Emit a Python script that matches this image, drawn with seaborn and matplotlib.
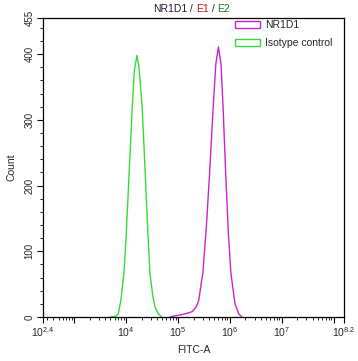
import numpy as np
import pandas as pd
import seaborn as sns
import matplotlib.pyplot as plt
from matplotlib.patches import Patch
from matplotlib.ticker import FixedLocator, LogLocator, NullFormatter
from matplotlib.transforms import offset_copy

# Histogram outlines: log10(FITC-A) vs count
nr1d1_log = [4.85, 4.95, 5.04, 5.15, 5.27, 5.35, 5.40, 5.48, 5.55, 5.61, 5.68,
             5.73, 5.78, 5.83, 5.87, 5.92, 5.97, 6.02, 6.10, 6.17, 6.23]
nr1d1_count = [0, 2, 3, 5, 8, 15, 25, 67, 140, 219, 320,
               385, 411, 385, 320, 219, 130, 67, 20, 5, 0]

iso_log = [3.69, 3.80, 3.85, 3.90, 3.96, 4.00, 4.06, 4.12, 4.16, 4.21,
           4.25, 4.31, 4.37, 4.42, 4.46, 4.52, 4.56, 4.62, 4.69]
iso_count = [0, 1, 5, 25, 67, 120, 219, 320, 375, 398,
             380, 320, 219, 130, 67, 30, 15, 5, 0]

series_names = ['NR1D1', 'Isotype control']
series_colors = ['#cc22cc', '#33dd33']

x_tick_exps = [2.4, 3, 4, 5, 6, 7, 8, 8.2]
x_tick_labels = ['$10^{2.4}$', '', '$10^{4}$', '$10^{5}$', '$10^{6}$', '$10^{7}$', '', '$10^{8.2}$']
y_ticks = [0, 100, 200, 300, 400, 455]

title_parts = ['NR1D1', ' / ', 'E1', ' / ', 'E2']
title_colors = ['#2a1a30', '#2a1a30', '#cc1111', '#2a1a30', '#1a7a2a']

df = pd.concat([
    pd.DataFrame({'x': 10 ** np.array(nr1d1_log), 'count': nr1d1_count, 'sample': series_names[0]}),
    pd.DataFrame({'x': 10 ** np.array(iso_log), 'count': iso_count, 'sample': series_names[1]}),
])

sns.set_style('ticks')
plt.rcParams['font.family'] = ['Liberation Sans', 'DejaVu Sans']
plt.rcParams['mathtext.fontset'] = 'custom'
plt.rcParams['mathtext.rm'] = 'Liberation Sans'
plt.rcParams['mathtext.it'] = 'Liberation Sans'

fig = plt.figure(figsize=(3.58, 3.61), dpi=100)
ax = fig.add_axes([43 / 358, 44 / 361, 301 / 358, 299 / 361])

sns.lineplot(data=df, x='x', y='count', hue='sample', palette=series_colors,
             hue_order=series_names, linewidth=1.0, sort=False, ax=ax, legend=False)

ax.set_xscale('log')
ax.set_xlim(10 ** 2.4, 10 ** 8.2)
ax.set_ylim(0, 455)

ax.xaxis.set_major_locator(FixedLocator([10 ** e for e in x_tick_exps]))
ax.set_xticklabels(x_tick_labels, fontsize=7.5)
ax.xaxis.set_minor_locator(LogLocator(base=10, subs=np.arange(2, 10), numticks=20))
ax.xaxis.set_minor_formatter(NullFormatter())

ax.set_yticks(y_ticks)
ax.set_yticklabels([str(v) for v in y_ticks], fontsize=7, rotation=90, va='center')
ax.yaxis.set_minor_locator(FixedLocator(list(range(20, 455, 20))))

ax.tick_params(axis='both', which='major', length=4, width=0.8, color='black', pad=2)
ax.tick_params(axis='both', which='minor', length=2, width=0.6, color='black')
for s in ax.spines.values():
    s.set_linewidth(0.9)
    s.set_color('black')

ax.set_xlabel('FITC-A', fontsize=7.5, labelpad=4)
ax.set_ylabel('Count', fontsize=7.5, labelpad=6)

# multi-coloured title, pieces laid out one after another
renderer = fig.canvas.get_renderer()
x0 = 153 / 358
pieces = []
trans = fig.transFigure
for txt, col in zip(title_parts, title_colors):
    t = fig.text(x0, 1 - 9 / 361, txt, color=col, fontsize=7.5, ha='left', va='center',
                 transform=trans)
    pieces.append(t)
    w = t.get_window_extent(renderer).width
    trans = offset_copy(trans, fig=fig, x=w, units='dots')

handles = [Patch(facecolor='none', edgecolor=c, linewidth=1.0) for c in series_colors]
fig.legend(handles, series_names, loc='upper left', bbox_to_anchor=(235 / 358, 1 - 20 / 361),
           frameon=False, fontsize=7.5, handlelength=2.4, handleheight=0.7,
           labelspacing=0.8, borderpad=0, borderaxespad=0, handletextpad=0.5)

fig.savefig('out.png', dpi=100)
